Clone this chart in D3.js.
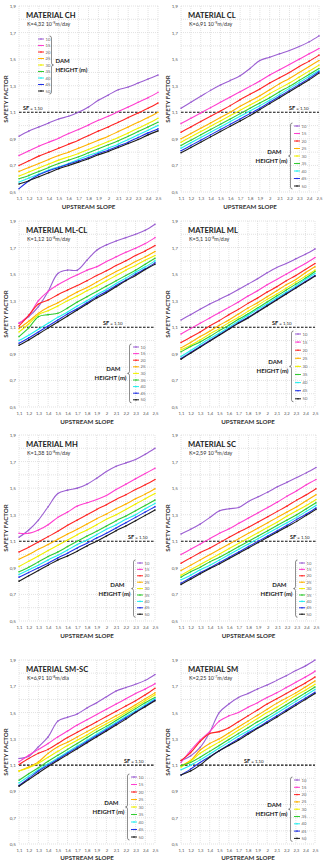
<!DOCTYPE html>
<html>
<head>
<meta charset="utf-8">
<script src="https://cdn.jsdelivr.net/npm/d3@7"></script>
<style>
body { margin: 0; background: #fff; }
text { font-family: Lato, "Liberation Sans", sans-serif; }
</style>
</head>
<body>
<div id="chart"></div>
<script>
// upstream slope (x) and dam heights (series)
const slopes = [1.1, 1.2, 1.3, 1.4, 1.5, 1.6, 1.7, 1.8, 1.9, 2.0, 2.1, 2.2, 2.3, 2.4, 2.5]
const damHeights = [10, 15, 20, 25, 30, 35, 40, 45, 50]
const yTicks = [0.5, 0.7, 0.9, 1.1, 1.3, 1.5, 1.7, 1.9]
const sfLimit = 1.1

const materials = ["CH", "CL", "ML-CL", "ML", "MH", "SC", "SM-SC", "SM"]
const kValue = ["4,32", "6,91", "1,12", "5,1", "1,38", "2,59", "6,91", "2,25"]
const kExp = ["-9", "-9", "-8", "-8", "-8", "-8", "-8", "-7"]
const kUnit = ["m/day", "m/day", "m/day", "m/day", "m/day", "m/day", "m/dia", "m/day"]

// safety factor, one row per dam height
const sfCH = [
    [0.92, 0.96, 0.99, 1.02, 1.05, 1.07, 1.10, 1.14, 1.19, 1.23, 1.27, 1.29, 1.32, 1.35, 1.38],
    [0.775, 0.81, 0.845, 0.875, 0.905, 0.94, 0.97, 1.005, 1.04, 1.07, 1.105, 1.14, 1.175, 1.21, 1.25],
    [0.70, 0.735, 0.77, 0.80, 0.83, 0.86, 0.89, 0.925, 0.96, 0.99, 1.025, 1.06, 1.095, 1.13, 1.17],
    [0.655, 0.685, 0.715, 0.745, 0.775, 0.80, 0.83, 0.86, 0.89, 0.92, 0.955, 0.99, 1.025, 1.06, 1.10],
    [0.62, 0.65, 0.68, 0.71, 0.74, 0.765, 0.79, 0.82, 0.85, 0.88, 0.91, 0.945, 0.98, 1.015, 1.055],
    [0.60, 0.625, 0.655, 0.685, 0.715, 0.74, 0.765, 0.795, 0.825, 0.855, 0.885, 0.92, 0.955, 0.99, 1.025],
    [0.575, 0.605, 0.635, 0.665, 0.69, 0.715, 0.745, 0.775, 0.80, 0.83, 0.86, 0.895, 0.93, 0.965, 1.0],
    [0.525, 0.585, 0.63, 0.66, 0.685, 0.71, 0.735, 0.76, 0.79, 0.815, 0.845, 0.875, 0.91, 0.945, 0.975],
    [0.56, 0.585, 0.615, 0.645, 0.675, 0.70, 0.725, 0.75, 0.78, 0.805, 0.835, 0.865, 0.895, 0.93, 0.96]
]
const sfCL = [
    [1.13, 1.175, 1.22, 1.265, 1.305, 1.34, 1.375, 1.43, 1.49, 1.515, 1.54, 1.565, 1.595, 1.63, 1.675],
    [1.015, 1.055, 1.095, 1.135, 1.175, 1.215, 1.255, 1.295, 1.335, 1.38, 1.42, 1.46, 1.50, 1.54, 1.58],
    [0.95, 0.99, 1.03, 1.07, 1.11, 1.15, 1.195, 1.235, 1.275, 1.32, 1.36, 1.40, 1.445, 1.485, 1.53],
    [0.90, 0.94, 0.98, 1.02, 1.06, 1.10, 1.145, 1.185, 1.225, 1.27, 1.315, 1.355, 1.40, 1.445, 1.49],
    [0.875, 0.915, 0.955, 0.995, 1.035, 1.075, 1.115, 1.155, 1.195, 1.24, 1.28, 1.32, 1.365, 1.41, 1.455],
    [0.85, 0.89, 0.93, 0.97, 1.01, 1.05, 1.09, 1.13, 1.17, 1.21, 1.255, 1.295, 1.34, 1.385, 1.43],
    [0.83, 0.87, 0.91, 0.95, 0.99, 1.03, 1.07, 1.11, 1.15, 1.19, 1.235, 1.28, 1.325, 1.37, 1.415],
    [0.81, 0.85, 0.89, 0.93, 0.97, 1.01, 1.05, 1.09, 1.13, 1.175, 1.22, 1.265, 1.31, 1.355, 1.405],
    [0.795, 0.835, 0.875, 0.915, 0.955, 0.995, 1.035, 1.075, 1.12, 1.165, 1.21, 1.255, 1.30, 1.345, 1.395]
]
const sfMLCL = [
    [1.13, 1.18, 1.255, 1.37, 1.505, 1.53, 1.53, 1.605, 1.68, 1.72, 1.75, 1.775, 1.80, 1.83, 1.875],
    [1.13, 1.19, 1.30, 1.37, 1.42, 1.46, 1.495, 1.53, 1.555, 1.595, 1.63, 1.665, 1.695, 1.73, 1.775],
    [1.11, 1.19, 1.275, 1.305, 1.345, 1.38, 1.415, 1.45, 1.49, 1.525, 1.565, 1.60, 1.64, 1.675, 1.715],
    [1.09, 1.145, 1.205, 1.25, 1.285, 1.325, 1.365, 1.40, 1.44, 1.48, 1.52, 1.555, 1.595, 1.63, 1.67],
    [1.065, 1.125, 1.195, 1.225, 1.26, 1.30, 1.335, 1.375, 1.41, 1.45, 1.49, 1.53, 1.565, 1.605, 1.64],
    [1.03, 1.095, 1.18, 1.195, 1.205, 1.245, 1.29, 1.33, 1.37, 1.41, 1.45, 1.49, 1.53, 1.575, 1.62],
    [1.0, 1.04, 1.085, 1.13, 1.175, 1.215, 1.26, 1.30, 1.345, 1.385, 1.43, 1.47, 1.515, 1.555, 1.60],
    [0.98, 1.02, 1.065, 1.11, 1.155, 1.20, 1.24, 1.285, 1.33, 1.37, 1.415, 1.455, 1.50, 1.54, 1.585],
    [0.965, 1.005, 1.05, 1.095, 1.14, 1.185, 1.23, 1.275, 1.32, 1.36, 1.405, 1.45, 1.49, 1.535, 1.575]
]
const sfML = [
    [1.155, 1.195, 1.235, 1.275, 1.31, 1.345, 1.385, 1.425, 1.465, 1.51, 1.55, 1.58, 1.615, 1.65, 1.69],
    [1.05, 1.09, 1.13, 1.17, 1.21, 1.25, 1.29, 1.335, 1.375, 1.42, 1.46, 1.50, 1.54, 1.58, 1.625],
    [0.985, 1.025, 1.065, 1.11, 1.15, 1.195, 1.235, 1.28, 1.32, 1.365, 1.405, 1.45, 1.49, 1.535, 1.58],
    [0.945, 0.985, 1.03, 1.07, 1.115, 1.155, 1.20, 1.245, 1.285, 1.33, 1.375, 1.42, 1.46, 1.51, 1.555],
    [0.93, 0.965, 1.005, 1.05, 1.09, 1.135, 1.175, 1.22, 1.265, 1.31, 1.35, 1.395, 1.44, 1.485, 1.53],
    [0.915, 0.955, 0.99, 1.03, 1.075, 1.115, 1.16, 1.20, 1.245, 1.29, 1.335, 1.38, 1.425, 1.47, 1.52],
    [0.88, 0.925, 0.97, 1.015, 1.055, 1.10, 1.145, 1.19, 1.235, 1.275, 1.32, 1.365, 1.41, 1.46, 1.505],
    [0.865, 0.91, 0.955, 1.0, 1.045, 1.09, 1.135, 1.175, 1.22, 1.265, 1.31, 1.355, 1.40, 1.445, 1.49],
    [0.86, 0.905, 0.95, 0.995, 1.04, 1.085, 1.13, 1.17, 1.215, 1.26, 1.305, 1.35, 1.395, 1.44, 1.485]
]
const sfMH = [
    [1.13, 1.185, 1.26, 1.36, 1.46, 1.485, 1.50, 1.53, 1.575, 1.625, 1.665, 1.69, 1.715, 1.755, 1.80],
    [1.16, 1.16, 1.185, 1.225, 1.28, 1.32, 1.365, 1.39, 1.415, 1.445, 1.49, 1.53, 1.57, 1.61, 1.65],
    [1.02, 1.055, 1.095, 1.135, 1.175, 1.22, 1.26, 1.30, 1.34, 1.375, 1.415, 1.45, 1.49, 1.525, 1.565],
    [0.965, 1.0, 1.04, 1.075, 1.115, 1.155, 1.19, 1.23, 1.27, 1.305, 1.345, 1.38, 1.42, 1.455, 1.495],
    [0.91, 0.95, 0.99, 1.03, 1.07, 1.11, 1.15, 1.185, 1.225, 1.265, 1.30, 1.34, 1.38, 1.42, 1.46],
    [0.87, 0.905, 0.945, 0.985, 1.02, 1.06, 1.10, 1.14, 1.175, 1.215, 1.255, 1.29, 1.33, 1.37, 1.41],
    [0.85, 0.885, 0.92, 0.96, 0.995, 1.035, 1.075, 1.11, 1.15, 1.19, 1.225, 1.265, 1.30, 1.345, 1.385],
    [0.83, 0.865, 0.90, 0.935, 0.975, 1.01, 1.05, 1.085, 1.125, 1.16, 1.20, 1.24, 1.28, 1.32, 1.36],
    [0.80, 0.84, 0.88, 0.92, 0.96, 0.99, 1.025, 1.065, 1.10, 1.14, 1.18, 1.215, 1.255, 1.295, 1.335]
]
const sfSC = [
    [1.155, 1.19, 1.23, 1.28, 1.33, 1.345, 1.355, 1.40, 1.435, 1.47, 1.51, 1.545, 1.58, 1.615, 1.655],
    [1.0, 1.04, 1.08, 1.12, 1.16, 1.195, 1.235, 1.275, 1.315, 1.355, 1.395, 1.44, 1.48, 1.525, 1.565],
    [0.935, 0.975, 1.015, 1.05, 1.09, 1.13, 1.17, 1.205, 1.245, 1.285, 1.325, 1.365, 1.41, 1.45, 1.495],
    [0.88, 0.92, 0.96, 1.0, 1.04, 1.08, 1.12, 1.16, 1.20, 1.24, 1.28, 1.32, 1.36, 1.405, 1.45],
    [0.845, 0.885, 0.925, 0.965, 1.005, 1.045, 1.085, 1.125, 1.165, 1.205, 1.245, 1.29, 1.33, 1.37, 1.415],
    [0.83, 0.87, 0.905, 0.945, 0.98, 1.02, 1.06, 1.10, 1.14, 1.18, 1.22, 1.26, 1.30, 1.345, 1.39],
    [0.81, 0.845, 0.885, 0.92, 0.96, 1.0, 1.04, 1.08, 1.12, 1.16, 1.20, 1.24, 1.28, 1.325, 1.37],
    [0.785, 0.825, 0.865, 0.90, 0.94, 0.98, 1.02, 1.06, 1.10, 1.14, 1.18, 1.22, 1.265, 1.305, 1.35],
    [0.775, 0.815, 0.855, 0.895, 0.93, 0.97, 1.01, 1.05, 1.09, 1.13, 1.17, 1.21, 1.25, 1.295, 1.34]
]
const sfSMSC = [
    [1.15, 1.167, 1.24, 1.315, 1.435, 1.465, 1.49, 1.535, 1.575, 1.62, 1.665, 1.69, 1.715, 1.745, 1.79],
    [1.125, 1.175, 1.22, 1.265, 1.315, 1.36, 1.405, 1.445, 1.485, 1.525, 1.565, 1.605, 1.645, 1.68, 1.72],
    [1.105, 1.15, 1.19, 1.22, 1.265, 1.31, 1.35, 1.39, 1.43, 1.47, 1.51, 1.55, 1.59, 1.635, 1.685],
    [1.055, 1.085, 1.125, 1.19, 1.24, 1.275, 1.315, 1.355, 1.395, 1.435, 1.475, 1.515, 1.56, 1.605, 1.65],
    [1.055, 1.08, 1.115, 1.16, 1.205, 1.25, 1.29, 1.33, 1.375, 1.415, 1.455, 1.50, 1.545, 1.59, 1.635],
    [0.985, 1.035, 1.08, 1.13, 1.175, 1.22, 1.265, 1.31, 1.355, 1.395, 1.44, 1.485, 1.53, 1.575, 1.615],
    [0.965, 1.015, 1.065, 1.11, 1.155, 1.20, 1.245, 1.29, 1.335, 1.38, 1.425, 1.47, 1.515, 1.56, 1.605],
    [0.945, 1.0, 1.055, 1.10, 1.145, 1.19, 1.235, 1.28, 1.325, 1.37, 1.415, 1.46, 1.505, 1.55, 1.595],
    [0.94, 0.99, 1.04, 1.09, 1.135, 1.18, 1.225, 1.27, 1.315, 1.36, 1.405, 1.45, 1.50, 1.545, 1.59]
]
const sfSM = [
    [1.135, 1.17, 1.235, 1.35, 1.50, 1.565, 1.615, 1.645, 1.68, 1.71, 1.745, 1.78, 1.82, 1.855, 1.90],
    [1.12, 1.21, 1.29, 1.355, 1.435, 1.475, 1.50, 1.54, 1.575, 1.615, 1.65, 1.69, 1.73, 1.77, 1.815],
    [1.135, 1.195, 1.28, 1.34, 1.355, 1.385, 1.43, 1.475, 1.52, 1.565, 1.605, 1.645, 1.685, 1.725, 1.77],
    [1.095, 1.135, 1.215, 1.265, 1.30, 1.345, 1.39, 1.435, 1.48, 1.525, 1.57, 1.61, 1.65, 1.695, 1.74],
    [1.085, 1.13, 1.19, 1.235, 1.275, 1.32, 1.365, 1.41, 1.455, 1.50, 1.54, 1.585, 1.63, 1.67, 1.715],
    [1.095, 1.12, 1.16, 1.205, 1.25, 1.295, 1.34, 1.385, 1.43, 1.47, 1.515, 1.56, 1.605, 1.65, 1.695],
    [1.065, 1.10, 1.14, 1.185, 1.23, 1.275, 1.32, 1.36, 1.405, 1.45, 1.495, 1.54, 1.585, 1.63, 1.675],
    [1.025, 1.07, 1.12, 1.165, 1.21, 1.255, 1.30, 1.345, 1.385, 1.43, 1.475, 1.52, 1.565, 1.61, 1.655],
    [1.025, 1.055, 1.10, 1.16, 1.21, 1.25, 1.29, 1.335, 1.38, 1.42, 1.465, 1.51, 1.555, 1.60, 1.645]
]
const allSF = [sfCH, sfCL, sfMLCL, sfML, sfMH, sfSC, sfSMSC, sfSM]

const colours = ["#9b5fd2", "#ff3fcf", "#ff2626", "#ffb300", "#f0f000", "#33cc33", "#22eeee", "#2233e6", "#1c1c1c"]

const width = 325
const height = 867

// plot boxes for each row / column
const rowTop = [6, 221, 435, 660]
const rowBottom = [192, 407, 621, 844]
const colLeft = [19, 181]
const plotWidth = [[139, 138], [136, 134], [136, 135], [136, 134]]

// legend (x of first swatch, y of first entry, spacing, bracket side) and SF label spot
const legendPos = [
    { x: 38, y: 39, dy: 6.5, side: "right" },
    { x: 294, y: 126, dy: 7.5, side: "left" },
    { x: 133, y: 347, dy: 6.6, side: "left" },
    { x: 295, y: 334, dy: 8.1, side: "left" },
    { x: 137, y: 563, dy: 6.4, side: "left" },
    { x: 299, y: 563, dy: 6.4, side: "left" },
    { x: 131, y: 777, dy: 7.5, side: "left" },
    { x: 294, y: 780, dy: 7.3, side: "left" }
]
const sfLabelX = [23, 289, 103, 272, 128, 290, 124, 244]

const svg = d3.select("#chart").append("svg").attr("width", width).attr("height", height)

const fmt = d => String(Math.round(d * 10) / 10).replace(".", ",")

materials.forEach((mat, i) => {
    const row = Math.floor(i / 2), col = i % 2
    const left = colLeft[col], w = plotWidth[row][col]
    const top = rowTop[row], bottom = rowBottom[row]

    const x = d3.scaleLinear().domain([1.1, 2.5]).range([left, left + w])
    const y = d3.scaleLinear().domain([0.5, 1.9]).range([bottom, top])

    const g = svg.append("g").attr("class", "panel")

    // dotted grid every 0.1
    const gx = d3.range(11, 26).map(v => v / 10)
    const gy = d3.range(5, 20).map(v => v / 10)
    g.selectAll(".vgrid").data(gx).enter().append("line")
        .attr("x1", d => x(d)).attr("x2", d => x(d))
        .attr("y1", top).attr("y2", bottom)
        .attr("stroke", "#cfcfcf").attr("stroke-width", 0.6).attr("stroke-dasharray", "1,1")
    g.selectAll(".hgrid").data(gy).enter().append("line")
        .attr("x1", left).attr("x2", left + w)
        .attr("y1", d => y(d)).attr("y2", d => y(d))
        .attr("stroke", "#cfcfcf").attr("stroke-width", 0.6).attr("stroke-dasharray", "1,1")

    // axes, no domain line
    const yAxis = d3.axisLeft(y).tickValues(yTicks).tickSize(0).tickPadding(3).tickFormat(fmt)
    const xAxis = d3.axisBottom(x).tickValues(slopes).tickSize(0).tickPadding(5).tickFormat(fmt)
    const ya = g.append("g").attr("transform", `translate(${left},0)`).call(yAxis)
    const xa = g.append("g").attr("transform", `translate(0,${bottom})`).call(xAxis)
    ya.select(".domain").remove()
    xa.select(".domain").remove()
    ya.selectAll("text").attr("font-size", 4.6).attr("fill", "#555").attr("font-family", "Lato")
    xa.selectAll("text").attr("font-size", 4.2).attr("fill", "#555").attr("font-family", "Lato")

    g.append("text")
        .attr("x", left + w / 2).attr("y", bottom + (row == 3 ? 16 : 17))
        .attr("text-anchor", "middle").attr("font-size", 6.2).attr("font-weight", "bold").attr("fill", "#333")
        .text("UPSTREAM SLOPE")
    g.append("text")
        .attr("transform", `translate(${left - 11},${(top + bottom) / 2}) rotate(-90)`)
        .attr("text-anchor", "middle").attr("font-size", 6.2).attr("font-weight", "bold").attr("fill", "#333")
        .text("SAFETY FACTOR")

    // SF = 1,10 reference
    g.append("line")
        .attr("x1", left).attr("x2", left + w)
        .attr("y1", y(sfLimit)).attr("y2", y(sfLimit))
        .attr("stroke", "#111").attr("stroke-width", 1.1).attr("stroke-dasharray", "2.5,1.5")
    const sfText = g.append("text").attr("x", sfLabelX[i]).attr("y", y(sfLimit) - 2).attr("fill", "#222")
    sfText.append("tspan").attr("font-size", 5.6).attr("font-weight", "bold").text("SF")
    sfText.append("tspan").attr("font-size", 4.4).text(" = 1,10")

    // series
    const line = d3.line().x((d, j) => x(slopes[j])).y(d => y(d)).curve(d3.curveCatmullRom)
    const sf = allSF[i]
    sf.forEach((vals, s) => {
        g.append("path").datum(vals)
            .attr("d", line)
            .attr("fill", "none").attr("stroke", colours[s]).attr("stroke-width", 1.1)
        g.selectAll(".pt" + s).data(vals).enter().append("circle")
            .attr("cx", (d, j) => x(slopes[j])).attr("cy", d => y(d))
            .attr("r", 0.8).attr("fill", colours[s])
    })

    // titles
    g.append("text").attr("x", left + 7).attr("y", top + 11.5)
        .attr("font-size", 7.6).attr("font-weight", "bold").attr("fill", "#222")
        .text("MATERIAL " + mat)
    const kt = g.append("text").attr("x", left + 8).attr("y", top + 19.5).attr("font-size", 5.4).attr("fill", "#333")
    kt.append("tspan").text("K=" + kValue[i] + " 10")
    kt.append("tspan").attr("font-size", 3.6).attr("dy", -2).text(kExp[i])
    kt.append("tspan").attr("dy", 2).text(kUnit[i])

    // legend
    const lp = legendPos[i]
    const lg = g.append("g")
    damHeights.forEach((h, s) => {
        const ly = lp.y + s * lp.dy
        lg.append("line").attr("x1", lp.x).attr("x2", lp.x + 6).attr("y1", ly).attr("y2", ly)
            .attr("stroke", colours[s]).attr("stroke-width", 1)
        lg.append("circle").attr("cx", lp.x + 3).attr("cy", ly).attr("r", 0.8).attr("fill", colours[s])
        lg.append("text").attr("x", lp.x + 7.5).attr("y", ly + 1.5).attr("font-size", 4.2).attr("fill", "#666").text(h)
    })
    const y1 = lp.y - 3, y2 = lp.y + 8 * lp.dy + 3, mid = (y1 + y2) / 2
    let bx, dir
    if (lp.side == "left") { bx = lp.x - 3.5; dir = -1 } else { bx = lp.x + 13.5; dir = 1 }
    const br = d3.path()
    br.moveTo(bx - dir * 2, y1)
    br.quadraticCurveTo(bx, y1, bx, y1 + 2)
    br.lineTo(bx, mid - 2)
    br.quadraticCurveTo(bx, mid, bx + dir * 2, mid)
    br.quadraticCurveTo(bx, mid, bx, mid + 2)
    br.lineTo(bx, y2 - 2)
    br.quadraticCurveTo(bx, y2, bx - dir * 2, y2)
    lg.append("path").attr("d", br.toString()).attr("fill", "none").attr("stroke", "#444").attr("stroke-width", 0.6)

    const tx = lp.side == "left" ? bx - 3 : bx + 4
    const anchor = lp.side == "left" ? "end" : "start"
    lg.append("text").attr("x", lp.side == "left" ? tx - 6 : tx).attr("y", mid - 2)
        .attr("text-anchor", anchor).attr("font-size", 6).attr("font-weight", "bold").attr("fill", "#222").text("DAM")
    lg.append("text").attr("x", tx).attr("y", mid + 7)
        .attr("text-anchor", anchor).attr("font-size", 6).attr("font-weight", "bold").attr("fill", "#222").text("HEIGHT (m)")
})
</script>
</body>
</html>
